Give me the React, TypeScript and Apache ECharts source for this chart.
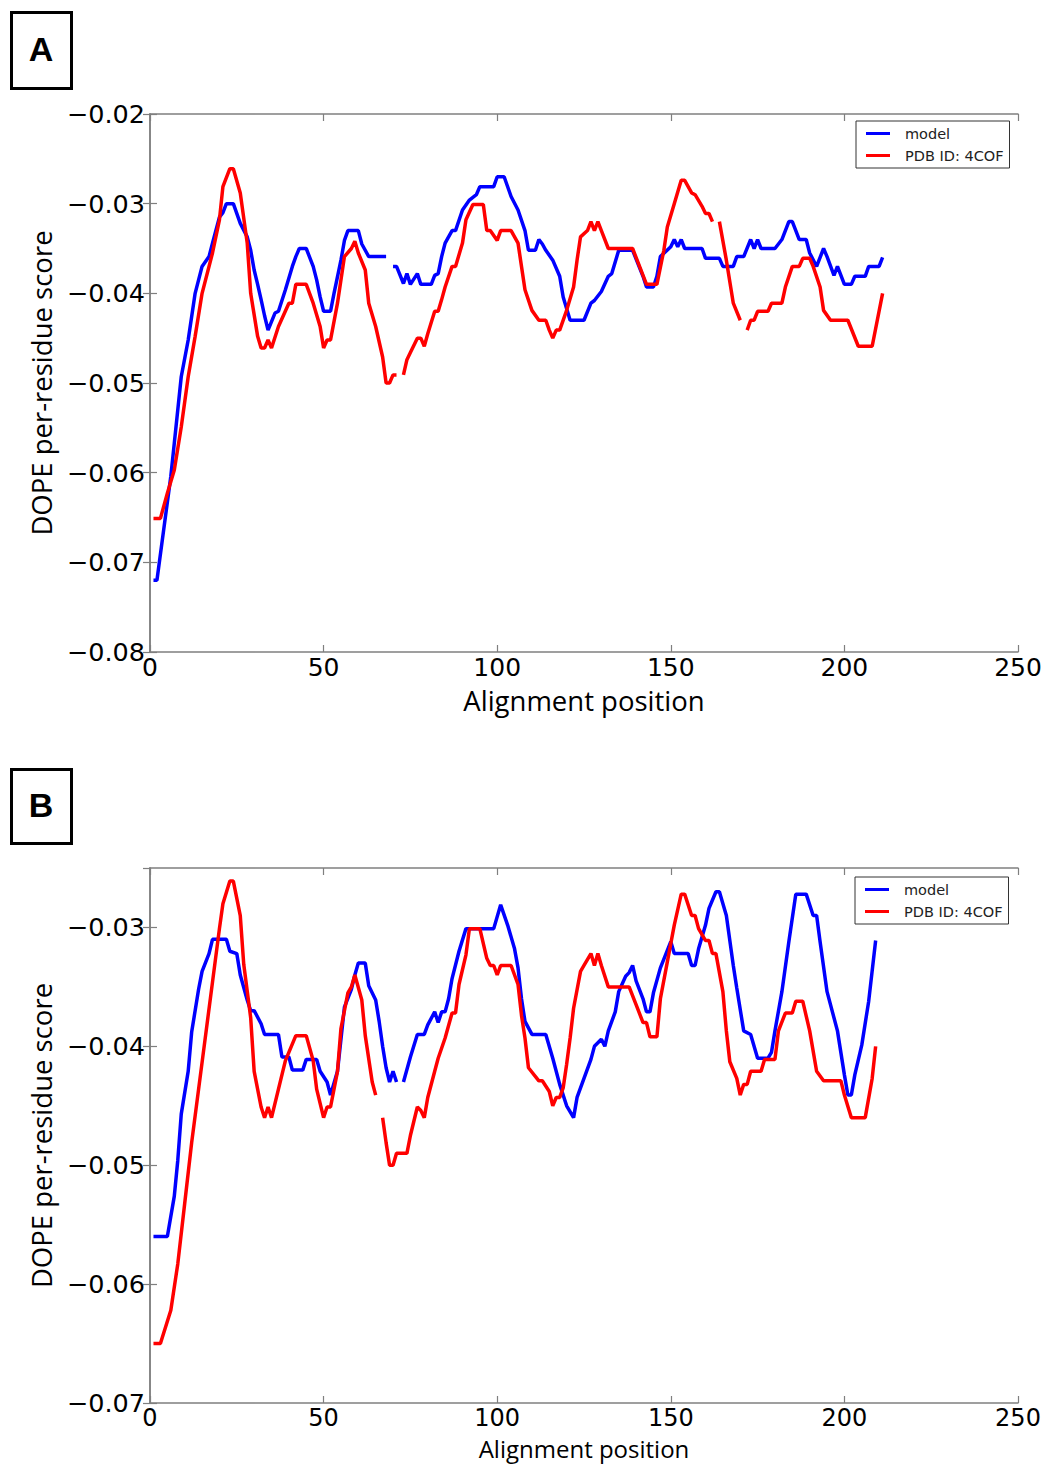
import React, { useEffect, useRef } from "react";
import * as echarts from "echarts";

type Pt = [number, number | null];

// Panel A
const modelA: Pt[] = [
  [1, -0.072], [2, -0.072], [6, -0.0604], [7, -0.0567], [9, -0.0493], [11, -0.0452], [13, -0.04],
  [15, -0.037], [17, -0.0359], [18, -0.0344], [20, -0.0315], [21, -0.031], [22, -0.03], [24, -0.03],
  [26, -0.0322], [28, -0.0337], [29, -0.0352], [30, -0.0374], [31, -0.039], [32, -0.0407], [33, -0.0425],
  [34, -0.0441], [36, -0.0422], [37, -0.042], [39, -0.0396], [41, -0.037], [42, -0.0359], [43, -0.035],
  [45, -0.035], [47, -0.037], [48, -0.0385], [49, -0.0404], [50, -0.042], [52, -0.042], [53, -0.04],
  [55, -0.0363], [56, -0.0341], [57, -0.033], [60, -0.033], [61, -0.0345], [63, -0.0359], [68, -0.0359],
  [69, null], [70, -0.037], [71, -0.037], [73, -0.0389], [74, -0.0378], [75, -0.039], [77, -0.0378],
  [78, -0.039], [81, -0.039], [82, -0.038], [83, -0.0378], [84, -0.0359], [85, -0.0344], [87, -0.033],
  [88, -0.033], [90, -0.0307], [92, -0.0296], [94, -0.029], [95, -0.0281], [99, -0.0281], [100, -0.027],
  [102, -0.027], [104, -0.0292], [106, -0.0307], [108, -0.033], [109, -0.0352], [111, -0.0352],
  [112, -0.034], [113, -0.0345], [114, -0.0352], [116, -0.0363], [118, -0.0381], [119, -0.0404],
  [121, -0.043], [125, -0.043], [127, -0.0411], [128, -0.0408], [130, -0.0398], [132, -0.0381],
  [133, -0.0378], [135, -0.0352], [139, -0.0352], [142, -0.0381], [143, -0.0393], [145, -0.0393],
  [146, -0.0381], [147, -0.0359], [150, -0.0348], [151, -0.034], [152, -0.0348], [153, -0.034],
  [154, -0.035], [159, -0.035], [160, -0.0361], [164, -0.0361], [165, -0.037], [168, -0.037],
  [169, -0.0359], [171, -0.0359], [173, -0.034], [174, -0.035], [175, -0.034], [176, -0.035],
  [180, -0.035], [182, -0.034], [184, -0.032], [185, -0.032], [187, -0.034], [189, -0.034],
  [190, -0.0355], [192, -0.037], [194, -0.035], [195, -0.0359], [197, -0.038], [198, -0.037],
  [200, -0.039], [202, -0.039], [203, -0.0381], [206, -0.0381], [207, -0.037], [210, -0.037],
  [211, -0.036],
];

const pdbA: Pt[] = [
  [1, -0.0651], [3, -0.0651], [5, -0.0623], [7, -0.0597], [9, -0.0549], [11, -0.0493], [13, -0.0448],
  [15, -0.04], [18, -0.0355], [20, -0.0318], [21, -0.0281], [23, -0.0261], [24, -0.0261], [26, -0.0288],
  [28, -0.0344], [29, -0.04], [31, -0.0448], [32, -0.0461], [33, -0.0461], [34, -0.0452], [35, -0.0461],
  [37, -0.0437], [40, -0.0411], [41, -0.0411], [42, -0.039], [45, -0.039], [47, -0.0411], [49, -0.0437],
  [50, -0.0461], [51, -0.0452], [52, -0.0452], [54, -0.0411], [56, -0.0359], [58, -0.035], [59, -0.0342],
  [60, -0.0355], [62, -0.0374], [63, -0.0411], [65, -0.0437], [67, -0.0471], [68, -0.05], [69, -0.05],
  [70, -0.0491], [71, -0.0491], [72, null], [73, -0.0491], [74, -0.0474], [75, -0.0466], [77, -0.045],
  [78, -0.045], [79, -0.0459], [80, -0.0445], [82, -0.042], [83, -0.042], [84, -0.0407], [85, -0.0393],
  [87, -0.037], [88, -0.037], [90, -0.0344], [91, -0.0318], [93, -0.0301], [96, -0.0301], [97, -0.033],
  [98, -0.033], [100, -0.0341], [101, -0.033], [104, -0.033], [106, -0.0344], [107, -0.037],
  [108, -0.0396], [110, -0.0419], [112, -0.043], [114, -0.043], [115, -0.0441], [116, -0.045],
  [117, -0.0441], [118, -0.0441], [120, -0.0419], [122, -0.0393], [123, -0.0363], [124, -0.0337],
  [126, -0.033], [127, -0.032], [128, -0.033], [129, -0.032], [130, -0.033], [132, -0.035], [139, -0.035],
  [141, -0.037], [143, -0.039], [146, -0.039], [148, -0.0352], [149, -0.0326], [151, -0.03],
  [153, -0.0274], [154, -0.0274], [156, -0.0288], [157, -0.029], [159, -0.0303], [160, -0.0311],
  [161, -0.0311], [162, -0.032], [163, null], [164, -0.032], [166, -0.0363], [168, -0.0411],
  [170, -0.043], [171, null], [172, -0.0441], [173, -0.043], [174, -0.043], [175, -0.042], [178, -0.042],
  [179, -0.0411], [182, -0.0411], [183, -0.0393], [185, -0.037], [187, -0.037], [188, -0.0361],
  [190, -0.0361], [191, -0.037], [193, -0.0393], [194, -0.0419], [196, -0.043], [201, -0.043],
  [204, -0.0459], [208, -0.0459], [211, -0.04],
];

// Panel B
const modelB: Pt[] = [
  [1, -0.056], [5, -0.056], [7, -0.0526], [8, -0.0496], [9, -0.0457], [11, -0.0421], [12, -0.0388],
  [14, -0.0352], [15, -0.0337], [17, -0.0322], [18, -0.031], [22, -0.031], [23, -0.032], [25, -0.0322],
  [26, -0.034], [28, -0.0361], [29, -0.037], [30, -0.037], [32, -0.0381], [33, -0.039], [37, -0.039],
  [38, -0.0409], [40, -0.0409], [41, -0.042], [44, -0.042], [45, -0.0411], [48, -0.0411], [49, -0.0421],
  [51, -0.043], [52, -0.0441], [54, -0.0421], [56, -0.0367], [58, -0.0352], [59, -0.034], [60, -0.033],
  [62, -0.033], [63, -0.0349], [65, -0.0361], [66, -0.0379], [67, -0.04], [68, -0.0418], [69, -0.043],
  [70, -0.0421], [71, -0.043], [72, null], [73, -0.043], [75, -0.0409], [77, -0.039], [79, -0.039],
  [80, -0.0382], [82, -0.0371], [83, -0.038], [84, -0.0371], [85, -0.0371], [86, -0.036], [87, -0.0343],
  [89, -0.032], [91, -0.0301], [99, -0.0301], [101, -0.0281], [103, -0.0298], [105, -0.0318],
  [106, -0.0334], [107, -0.036], [108, -0.0379], [110, -0.039], [114, -0.039], [116, -0.041],
  [118, -0.0432], [120, -0.045], [122, -0.046], [123, -0.0443], [125, -0.0427], [127, -0.0411],
  [128, -0.04], [130, -0.0394], [131, -0.04], [132, -0.0387], [134, -0.0371], [135, -0.0354],
  [137, -0.0341], [138, -0.0338], [139, -0.0332], [140, -0.0345], [142, -0.036], [143, -0.0371],
  [144, -0.0371], [145, -0.0355], [147, -0.0334], [150, -0.0312], [151, -0.0322], [155, -0.0322],
  [156, -0.0332], [157, -0.0332], [158, -0.0318], [160, -0.0298], [161, -0.0284], [163, -0.027],
  [164, -0.027], [166, -0.029], [168, -0.0332], [169, -0.0351], [171, -0.0387], [173, -0.039],
  [175, -0.041], [178, -0.041], [179, -0.0405], [180, -0.0387], [182, -0.0354], [184, -0.0312],
  [186, -0.0272], [189, -0.0272], [191, -0.029], [192, -0.029], [193, -0.0312], [195, -0.0354],
  [198, -0.0387], [200, -0.0424], [201, -0.0441], [202, -0.0441], [203, -0.0424], [205, -0.0399],
  [207, -0.0362], [209, -0.0311],
];

const pdbB: Pt[] = [
  [1, -0.065], [3, -0.065], [6, -0.0622], [8, -0.0583], [10, -0.0532], [12, -0.0481], [14, -0.0436],
  [16, -0.0391], [18, -0.0346], [20, -0.0301], [21, -0.028], [23, -0.0261], [24, -0.0261], [26, -0.029],
  [27, -0.0331], [29, -0.0376], [30, -0.0421], [32, -0.0451], [33, -0.046], [34, -0.0451], [35, -0.046],
  [37, -0.0436], [39, -0.0412], [42, -0.0391], [45, -0.0391], [47, -0.0412], [48, -0.0436], [50, -0.046],
  [51, -0.0451], [52, -0.0451], [54, -0.0421], [55, -0.0385], [57, -0.0355], [58, -0.035], [59, -0.034],
  [61, -0.0361], [62, -0.0391], [64, -0.043], [65, -0.0441], [66, null], [67, -0.046], [68, -0.0481],
  [69, -0.05], [70, -0.05], [71, -0.049], [74, -0.049], [75, -0.0475], [76, -0.0463], [77, -0.0451],
  [78, -0.0454], [79, -0.046], [80, -0.0443], [82, -0.0421], [83, -0.041], [85, -0.0393], [87, -0.0372],
  [88, -0.0372], [89, -0.0348], [91, -0.0323], [92, -0.0301], [95, -0.0301], [97, -0.0326],
  [98, -0.0332], [99, -0.0332], [100, -0.034], [101, -0.0332], [104, -0.0332], [106, -0.0348],
  [107, -0.0374], [108, -0.0393], [109, -0.0418], [112, -0.0429], [113, -0.0429], [115, -0.0438],
  [116, -0.045], [117, -0.0443], [118, -0.0443], [119, -0.0435], [120, -0.0415], [121, -0.0393],
  [122, -0.0368], [124, -0.0337], [125, -0.0332], [127, -0.0322], [128, -0.0332], [129, -0.0322],
  [130, -0.0332], [132, -0.035], [138, -0.035], [140, -0.0365], [142, -0.038], [143, -0.038],
  [144, -0.0392], [146, -0.0392], [147, -0.036], [149, -0.0329], [151, -0.0298], [153, -0.0272],
  [154, -0.0272], [156, -0.029], [157, -0.029], [158, -0.0301], [160, -0.0311], [161, -0.0311],
  [162, -0.0322], [163, -0.0322], [165, -0.0354], [166, -0.0387], [167, -0.0413], [169, -0.0427],
  [170, -0.0441], [171, -0.0432], [172, -0.0432], [173, -0.0421], [176, -0.0421], [177, -0.0411],
  [180, -0.0411], [181, -0.0387], [183, -0.0372], [185, -0.0372], [186, -0.0362], [188, -0.0362],
  [190, -0.0387], [192, -0.0421], [194, -0.0429], [199, -0.0429], [200, -0.0441], [202, -0.046],
  [206, -0.046], [208, -0.0427], [209, -0.04],
];

const seriesNames = ["model", "PDB ID: 4COF"];
const seriesColors = ["#0000ff", "#ff0000"];
const panelLabels = ["A", "B"];
const xRange = [0, 250, 50];
const yRangeA = [-0.08, -0.02, 0.01];
const yRangeB = [-0.07, -0.025, 0.01];
const xTitle = "Alignment position";
const yTitle = "DOPE per-residue score";

const tickFont = "DejaVu Sans";
const titleFont = "Open Sans";
const spineColor = "#7f7f7f";

function toData(pts: Pt[]) {
  return pts.map(([x, y]) => [x, y === null ? "-" : y]);
}

function fmtY(v: number) {
  return v.toFixed(2).replace("-", "\u2212");
}

export default function App() {
  const ref = useRef<HTMLDivElement>(null);
  useEffect(() => {
    if (!ref.current) return;
    const chart = echarts.init(ref.current, undefined, { renderer: "svg" });
    const grids = [
      { left: 150, top: 114, width: 868, height: 538 },
      { left: 150, top: 868, width: 868, height: 535 },
    ];
    const yRanges = [yRangeA, yRangeB];
    const xNameGaps = [34, 33];
    const xTickSizes = [25, 24];
    const xTitleSizes = [27.5, 24];
    const xAxes: any[] = [];
    const yAxes: any[] = [];
    grids.forEach((_, gi) => {
      const tick = { show: true, inside: true, length: 7, lineStyle: { color: spineColor, width: 1.2 } };
      const line = { show: true, lineStyle: { color: spineColor, width: 1.5 } };
      xAxes.push({
        type: "value", gridIndex: gi, position: "bottom",
        min: xRange[0], max: xRange[1], interval: xRange[2],
        axisLine: line, axisTick: tick, splitLine: { show: false },
        axisLabel: { color: "#000", fontFamily: tickFont, fontSize: xTickSizes[gi], margin: 3 },
        name: xTitle, nameLocation: "middle", nameGap: xNameGaps[gi],
        nameTextStyle: { color: "#000", fontFamily: titleFont, fontSize: xTitleSizes[gi] },
      });
      xAxes.push({
        type: "value", gridIndex: gi, position: "top",
        min: xRange[0], max: xRange[1], interval: xRange[2],
        axisLine: line, axisTick: tick, splitLine: { show: false },
        axisLabel: { show: false },
      });
      const yr = yRanges[gi];
      yAxes.push({
        type: "value", gridIndex: gi, position: "left",
        min: yr[0], max: yr[1], interval: yr[2],
        axisLine: line, axisTick: tick, splitLine: { show: false },
        axisLabel: {
          color: "#000", fontFamily: tickFont, fontSize: 25.5, margin: 5,
          showMaxLabel: gi === 0,
          formatter: (v: number) => fmtY(v),
        },
        name: yTitle, nameLocation: "middle", nameGap: 90, nameRotate: 90,
        nameTextStyle: { color: "#000", fontFamily: titleFont, fontSize: 27.5 },
      });
      yAxes.push({
        type: "value", gridIndex: gi, position: "right",
        min: yr[0], max: yr[1], interval: yr[2],
        axisLine: line, axisTick: tick, splitLine: { show: false },
        axisLabel: { show: false },
      });
    });
    const panels = [
      [modelA, pdbA],
      [modelB, pdbB],
    ];
    const series: any[] = [];
    panels.forEach((pair, gi) => {
      pair.forEach((pts, si) => {
        series.push({
          type: "line", name: seriesNames[si],
          xAxisIndex: gi * 2, yAxisIndex: gi * 2,
          data: toData(pts), showSymbol: false, symbol: "none",
          connectNulls: false,
          lineStyle: { color: seriesColors[si], width: 3.5 },
          itemStyle: { color: seriesColors[si] },
        });
      });
    });
    const legendBase = {
      orient: "vertical", icon: "rect", itemWidth: 24, itemHeight: 3, itemGap: 7,
      borderColor: "#333", borderWidth: 1, padding: [5, 6, 5, 10],
      backgroundColor: "#fff",
      textStyle: { fontFamily: tickFont, fontSize: 14.5, color: "#222", padding: [0, 0, 0, 10] },
      data: seriesNames, selectedMode: false,
    };
    const boxes = [
      { y: 11, h: 76, ty: 49 },
      { y: 768, h: 74, ty: 805 },
    ];
    const graphic: any[] = [];
    boxes.forEach((b, i) => {
      graphic.push({
        type: "rect", left: 10, top: b.y,
        shape: { x: 0, y: 0, width: 60, height: b.h },
        style: { fill: "#fff", stroke: "#000", lineWidth: 3 },
      });
      graphic.push({
        type: "text", x: 41, y: b.ty,
        style: {
          text: panelLabels[i], fill: "#000", font: "bold 34px 'Liberation Sans', Arial",
          textAlign: "center", textVerticalAlign: "middle",
        },
      });
    });
    chart.setOption({
      animation: false,
      backgroundColor: "#fff",
      grid: grids,
      xAxis: xAxes,
      yAxis: yAxes,
      series,
      legend: [
        { ...legendBase, left: 856, top: 121 },
        { ...legendBase, left: 855, top: 877 },
      ],
      graphic,
    });
    return () => chart.dispose();
  }, []);
  return (
    <div
      ref={ref}
      style={{ position: "absolute", left: 0, top: 0, width: 1046, height: 1467 }}
    />
  );
}
